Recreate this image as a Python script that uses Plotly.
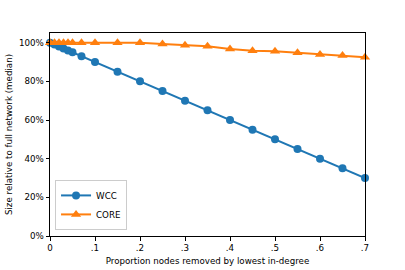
import plotly.graph_objects as go

x_vals = [0, 0.01, 0.02, 0.03, 0.04, 0.05, 0.07, 0.1, 0.15, 0.2, 0.25, 0.3, 0.35, 0.4, 0.45, 0.5, 0.55, 0.6, 0.65, 0.7]
wcc = [1.0, 0.99, 0.98, 0.97, 0.96, 0.95, 0.93, 0.90, 0.85, 0.80, 0.75, 0.70, 0.65, 0.60, 0.55, 0.50, 0.45, 0.40, 0.35, 0.30]
core = [1.0, 1.0, 1.0, 1.0, 1.0, 1.0, 1.0, 1.0, 1.0, 1.0, 0.993, 0.986, 0.982, 0.967, 0.958, 0.955, 0.948, 0.939, 0.934, 0.925]
x_ticks = [0, 0.1, 0.2, 0.3, 0.4, 0.5, 0.6, 0.7]
x_tick_labels = ["0", ".1", ".2", ".3", ".4", ".5", ".6", ".7"]
y_ticks = [0, 0.2, 0.4, 0.6, 0.8, 1.0]
y_tick_labels = ["0%", "20%", "40%", "60%", "80%", "100%"]

FS = 8.7

fig = go.Figure()
fig.add_trace(go.Scatter(x=x_vals, y=wcc, name="WCC", mode="lines+markers",
                         line=dict(color="#1f77b4", width=2),
                         marker=dict(symbol="circle", size=8, color="#1f77b4"),
                         cliponaxis=False))
fig.add_trace(go.Scatter(x=x_vals, y=core, name="CORE", mode="lines+markers",
                         line=dict(color="#ff7f0e", width=2),
                         marker=dict(symbol="triangle-up", size=9, color="#ff7f0e"),
                         cliponaxis=False))

axis_common = dict(showline=True, linecolor="black", linewidth=1, mirror=True,
                   ticks="outside", ticklen=3.5, tickcolor="black", showgrid=False,
                   zeroline=False, automargin=False,
                   tickfont=dict(family="DejaVu Sans", size=FS, color="black"))

fig.update_layout(
    width=405, height=270,
    margin=dict(l=50, r=40, t=33, b=34),
    paper_bgcolor="white", plot_bgcolor="white",
    font=dict(family="DejaVu Sans", size=FS, color="black"),
    xaxis=dict(range=[0, 0.7], tickvals=x_ticks, ticktext=x_tick_labels,
               title=dict(text="Proportion nodes removed by lowest in-degree",
                          font=dict(size=FS), standoff=5), **axis_common),
    yaxis=dict(range=[0, 1.05], tickvals=y_ticks, ticktext=y_tick_labels,
               title=dict(text="Size relative to full network (median)",
                          font=dict(size=FS), standoff=4), **axis_common),
    legend=dict(x=0.016, y=0.03, xanchor="left", yanchor="bottom",
                bordercolor="#cccccc", borderwidth=1, bgcolor="rgba(255,255,255,0.8)",
                font=dict(size=FS), itemwidth=30, tracegroupgap=0),
    showlegend=True,
)

fig.write_html("out.html", config={"displayModeBar": False},
               post_script="document.body.style.margin='0';document.body.style.overflow='hidden';")
